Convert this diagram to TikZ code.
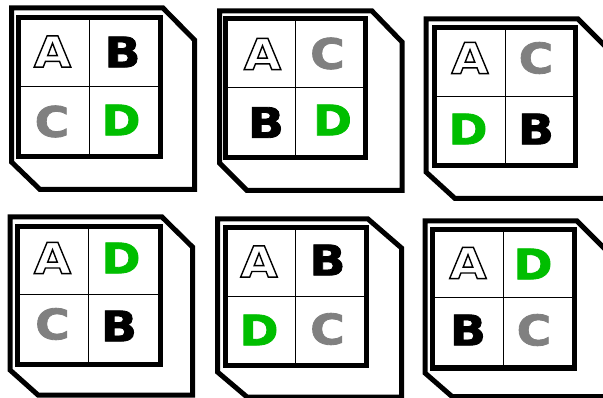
\documentclass[tikz,border=0pt]{standalone}
\usepackage{fontspec}
\setmainfont{DejaVu Sans}
\newfontfamily\pesada[FakeBold=2, FakeStretch=1.12]{DejaVu Sans Bold}
\newfontfamily\vazada[FakeStretch=1.12]{DejaVu Sans Bold}
\definecolor{verde}{RGB}{0,190,0}
\definecolor{cinza}{RGB}{128,128,128}

\begin{document}
\begin{tikzpicture}[x=1pt, y=-1pt,
    borda/.style={line width=5pt, line join=miter},
    quadro/.style={line width=5pt},
    grade/.style={line width=1pt},
    letra/.style={font=\pesada\fontsize{42}{42}\selectfont, inner sep=0pt},
    letraA/.style={font=\vazada\fontsize{43}{43}\selectfont, inner sep=0pt, text=white},
    letraB/.style={letra, text=black},
    letraC/.style={letra, text=cinza},
    letraD/.style={letra, text=verde}]

        \useasboundingbox (0,0) rectangle (603,398);
        \clip (0,0) rectangle (603,398);

        % Painel 1
        \draw[borda] (11.5,8) -- (163,8) -- (194.5,40) -- (194.5,189.5) -- (40,189.5) -- (11.5,162) -- cycle;
        \draw[quadro] (18,17.5) rectangle (160,157);
        \draw[grade] (89,17.5) -- (89,157);
        \draw[grade] (18,87) -- (160,87);
        \node[letraA] (a1) at (52.5,51.5) {\special{pdf:literal direct 0 G 2 Tr 1.4 w}A\special{pdf:literal direct 0 Tr}};
        \node[letraB] (b1) at (122.5,52) {B};
        \node[letraC] (c1) at (52,121.5) {C};
        \node[letraD] (d1) at (121,120) {D};

        % Painel 2
        \draw[borda] (219.5,11) -- (372,11) -- (402,42) -- (402,190.5) -- (247,190.5) -- (219.5,163) -- cycle;
        \draw[quadro] (225.5,19) rectangle (365.5,157.5);
        \draw[grade] (295.5,19) -- (295.5,157.5);
        \draw[grade] (225.5,88) -- (365.5,88);
        \node[letraA] (a2) at (262.5,54) {\special{pdf:literal direct 0 G 2 Tr 1.4 w}A\special{pdf:literal direct 0 Tr}};
        \node[letraC] (c2) at (327.5,53.5) {C};
        \node[letraB] (b2) at (266,122.5) {B};
        \node[letraD] (d2) at (332.5,120) {D};

        % Painel 3
        \draw[borda] (426,19) -- (578,19) -- (609,50) -- (609,198.5) -- (455,198.5) -- (426,172) -- cycle;
        \draw[quadro] (434.5,27.5) rectangle (575.5,165.5);
        \draw[grade] (505,27.5) -- (505,165.5);
        \draw[grade] (434.5,96.5) -- (575.5,96.5);
        \node[letraA] (a3) at (470,58) {\special{pdf:literal direct 0 G 2 Tr 1.4 w}A\special{pdf:literal direct 0 Tr}};
        \node[letraC] (c3) at (536,58) {C};
        \node[letraD] (d3) at (468,129) {D};
        \node[letraB] (b3) at (536,129) {B};

        % Painel 4
        \draw[borda] (10,217) -- (162,217) -- (192.5,247) -- (192.5,395) -- (38,395) -- (10,370) -- cycle;
        \draw[quadro] (17.5,226.5) rectangle (160,364.5);
        \draw[grade] (88,226.5) -- (88,364.5);
        \draw[grade] (17.5,295) -- (160,295);
        \node[letraA] (a4) at (52.5,258) {\special{pdf:literal direct 0 G 2 Tr 1.4 w}A\special{pdf:literal direct 0 Tr}};
        \node[letraD] (d4) at (121,258) {D};
        \node[letraC] (c4) at (52.5,324) {C};
        \node[letraB] (b4) at (119,326) {B};

        % Painel 5
        \draw[borda] (217.5,219) -- (368,219) -- (401.5,248) -- (401.5,397) -- (247,397) -- (217.5,372) -- cycle;
        \draw[quadro] (225,228) rectangle (366.5,365.5);
        \draw[grade] (295.5,228) -- (295.5,365.5);
        \draw[grade] (225,297) -- (366.5,297);
        \node[letraA] (a5) at (259,261.5) {\special{pdf:literal direct 0 G 2 Tr 1.4 w}A\special{pdf:literal direct 0 Tr}};
        \node[letraB] (b5) at (327.5,260) {B};
        \node[letraD] (d5) at (259,330) {D};
        \node[letraC] (c5) at (327.5,329) {C};

        % Painel 6
        \draw[borda] (425,221) -- (577,221) -- (608,252) -- (608,396.5) -- (452,396.5) -- (425,373) -- cycle;
        \draw[quadro] (432,229.5) rectangle (574.5,368);
        \draw[grade] (503,229.5) -- (503,368);
        \draw[grade] (432,298) -- (574.5,298);
        \node[letraA] (a6) at (468,263) {\special{pdf:literal direct 0 G 2 Tr 1.4 w}A\special{pdf:literal direct 0 Tr}};
        \node[letraD] (d6) at (533,264) {D};
        \node[letraB] (b6) at (468,330) {B};
        \node[letraC] (c6) at (534,330) {C};

    \end{tikzpicture}
\end{document}
